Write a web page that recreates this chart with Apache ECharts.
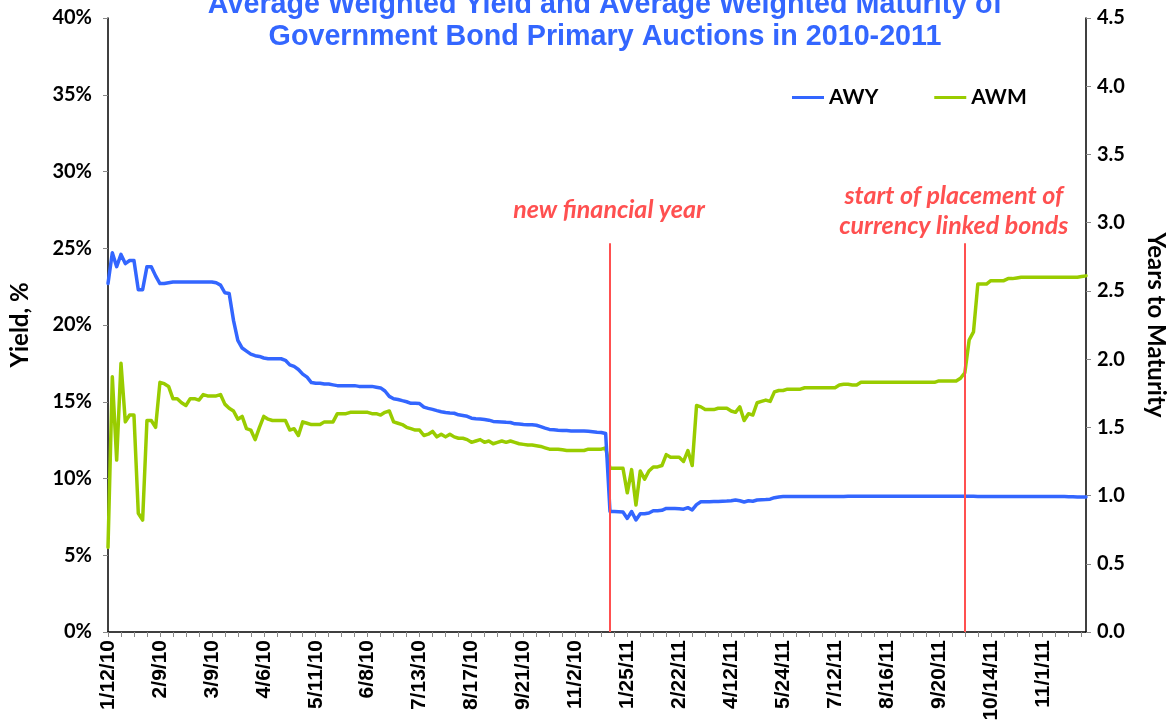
<!DOCTYPE html>
<html>
<head>
<meta charset="utf-8">
<script src="https://cdn.jsdelivr.net/npm/echarts@6/dist/echarts.min.js"></script>
<style>
  html, body { margin: 0; padding: 0; background: #fff; }
  #chart { width: 1168px; height: 722px; }
</style>
</head>
<body>
<div id="chart"></div>
<script>
// Date labels shown on every 12th auction along the horizontal axis
const tickLabels = ['1/12/10', '2/9/10', '3/9/10', '4/6/10', '5/11/10', '6/8/10', '7/13/10',
  '8/17/10', '9/21/10', '11/2/10', '1/25/11', '2/22/11', '4/12/11', '5/24/11', '7/12/11',
  '8/16/11', '9/20/11', '10/14/11', '11/1/11'];
const labelStep = 12;

// Average weighted yield, %
const awy = [
  22.7, 24.7, 23.8, 24.6, 24.0, 24.2, 24.2, 22.3, 22.3, 23.8,
  23.8, 23.2, 22.7, 22.7, 22.75, 22.8, 22.8, 22.8, 22.8, 22.8,
  22.8, 22.8, 22.8, 22.8, 22.8, 22.75, 22.6, 22.1, 22.05, 20.3,
  19.0, 18.5, 18.3, 18.1, 18.0, 17.95, 17.85, 17.8, 17.8, 17.8,
  17.8, 17.7, 17.4, 17.3, 17.1, 16.8, 16.6, 16.25, 16.2, 16.2,
  16.15, 16.15, 16.1, 16.05, 16.05, 16.05, 16.05, 16.05, 16.0, 16.0,
  16.0, 16.0, 15.95, 15.9, 15.7, 15.35, 15.2, 15.15, 15.07, 15.0,
  14.9, 14.9, 14.88, 14.65, 14.57, 14.5, 14.42, 14.35, 14.3, 14.27,
  14.25, 14.15, 14.1, 14.05, 13.93, 13.9, 13.88, 13.85, 13.8, 13.72,
  13.7, 13.68, 13.66, 13.65, 13.56, 13.55, 13.52, 13.5, 13.5, 13.47,
  13.38, 13.28, 13.2, 13.18, 13.15, 13.13, 13.12, 13.1, 13.1, 13.1,
  13.1, 13.08, 13.05, 13.02, 13.0, 12.93, 7.85, 7.85, 7.84, 7.82,
  7.4, 7.85, 7.3, 7.7, 7.7, 7.75, 7.9, 7.9, 7.93, 8.05,
  8.05, 8.04, 8.03, 8.0, 8.1, 7.95, 8.3, 8.49, 8.49, 8.49,
  8.5, 8.5, 8.52, 8.53, 8.55, 8.6, 8.55, 8.47, 8.55, 8.52,
  8.6, 8.62, 8.63, 8.65, 8.75, 8.8, 8.82, 8.82, 8.82, 8.82,
  8.82, 8.82, 8.82, 8.82, 8.82, 8.82, 8.82, 8.82, 8.82, 8.82,
  8.82, 8.84, 8.84, 8.84, 8.84, 8.84, 8.84, 8.84, 8.84, 8.84,
  8.84, 8.84, 8.84, 8.84, 8.84, 8.84, 8.84, 8.84, 8.84, 8.84,
  8.84, 8.84, 8.84, 8.84, 8.84, 8.84, 8.84, 8.84, 8.84, 8.84,
  8.84, 8.83, 8.83, 8.83, 8.83, 8.83, 8.83, 8.83, 8.83, 8.83,
  8.83, 8.83, 8.83, 8.83, 8.83, 8.82, 8.82, 8.82, 8.82, 8.82,
  8.82, 8.82, 8.81, 8.81, 8.8, 8.8, 8.8
];

// Average weighted maturity, years
const awm = [
  0.62, 1.87, 1.26, 1.97, 1.54, 1.59, 1.59, 0.87, 0.82, 1.55,
  1.55, 1.50, 1.83, 1.82, 1.80, 1.71, 1.71, 1.68, 1.66, 1.71,
  1.71, 1.70, 1.74, 1.73, 1.73, 1.73, 1.74, 1.67, 1.64, 1.62,
  1.56, 1.58, 1.49, 1.48, 1.41, 1.50, 1.58, 1.56, 1.55, 1.55,
  1.55, 1.55, 1.48, 1.49, 1.44, 1.54, 1.53, 1.52, 1.52, 1.52,
  1.54, 1.54, 1.54, 1.60, 1.60, 1.60, 1.61, 1.61, 1.61, 1.61,
  1.61, 1.60, 1.60, 1.59, 1.61, 1.62, 1.54, 1.53, 1.52, 1.50,
  1.49, 1.48, 1.48, 1.44, 1.45, 1.47, 1.43, 1.45, 1.43, 1.45,
  1.43, 1.42, 1.42, 1.41, 1.39, 1.40, 1.41, 1.39, 1.40, 1.38,
  1.39, 1.40, 1.39, 1.40, 1.39, 1.38, 1.375, 1.37, 1.37, 1.365,
  1.36, 1.35, 1.34, 1.34, 1.34, 1.335, 1.33, 1.33, 1.33, 1.33,
  1.33, 1.34, 1.34, 1.34, 1.34, 1.35, 1.20, 1.20, 1.20, 1.20,
  1.02, 1.19, 0.93, 1.18, 1.12, 1.18, 1.21, 1.21, 1.22, 1.30,
  1.28, 1.28, 1.28, 1.25, 1.33, 1.22, 1.66, 1.65, 1.63, 1.63,
  1.63, 1.64, 1.64, 1.64, 1.62, 1.61, 1.65, 1.55, 1.60, 1.59,
  1.68, 1.69, 1.70, 1.69, 1.76, 1.77, 1.77, 1.78, 1.78, 1.78,
  1.78, 1.79, 1.79, 1.79, 1.79, 1.79, 1.79, 1.79, 1.79, 1.81,
  1.815, 1.815, 1.81, 1.81, 1.83, 1.83, 1.83, 1.83, 1.83, 1.83,
  1.83, 1.83, 1.83, 1.83, 1.83, 1.83, 1.83, 1.83, 1.83, 1.83,
  1.83, 1.83, 1.84, 1.84, 1.84, 1.84, 1.84, 1.86, 1.90, 2.14,
  2.20, 2.55, 2.55, 2.55, 2.575, 2.575, 2.575, 2.575, 2.59, 2.59,
  2.595, 2.60, 2.60, 2.60, 2.60, 2.60, 2.60, 2.60, 2.60, 2.60,
  2.60, 2.60, 2.60, 2.60, 2.60, 2.605, 2.61
];

// Event markers: auction index and the maturity level where the marker line stops
const eventAt = [116, 198];
const eventTop = [2.85, 2.85];
const eventText = ['new financial year', 'start of placement of\ncurrency linked bonds'];

const categories = awy.map((_, i) => String(i));

const BLUE = '#3366FF';
const GREEN = '#99CC00';
const RED = '#FF5050';
const labelFont = 'Lato, "Liberation Sans", sans-serif';
const dateFont = '"Liberation Sans", Arial, sans-serif';
const nameStyle = { fontFamily: labelFont, fontWeight: 'bold', fontSize: 24, color: '#000' };

const chart = echarts.init(document.getElementById('chart'));

chart.setOption({
  animation: false,
  backgroundColor: '#fff',
  title: {
    text: 'Average Weighted Yield and Average Weighted Maturity of\nGovernment Bond Primary Auctions in 2010-2011',
    left: 600,
    top: -16,
    textAlign: 'center',
    textStyle: {
      fontFamily: dateFont, fontWeight: 'bold', fontSize: 28.7, lineHeight: 32, color: BLUE
    }
  },
  legend: {
    data: ['AWY', 'AWM'],
    left: 787,
    top: 82,
    icon: 'rect',
    itemWidth: 32,
    itemHeight: 3,
    itemGap: 56,
    textStyle: { fontFamily: labelFont, fontWeight: 'bold', fontSize: 21, color: '#000' }
  },
  grid: { left: 108, right: 82, top: 18, bottom: 90, outerBoundsMode: 'none', containLabel: false },
  xAxis: {
    type: 'category',
    data: categories,
    boundaryGap: false,
    axisLine: { lineStyle: { color: '#000', width: 1.5 } },
    axisTick: { interval: 2, length: 5, lineStyle: { color: '#888' } },
    axisLabel: {
      interval: labelStep - 1,
      rotate: 90,
      margin: 8,
      fontFamily: dateFont,
      fontWeight: 'bold',
      fontSize: 21,
      color: '#000',
      formatter: (v, i) => tickLabels[i / labelStep] || ''
    },
    splitLine: { show: false }
  },
  yAxis: [
    {
      type: 'value',
      min: 0, max: 40, interval: 5,
      name: 'Yield, %',
      nameLocation: 'middle',
      nameRotate: 90,
      nameGap: 76,
      nameTextStyle: nameStyle,
      axisLine: { show: true, lineStyle: { color: '#000', width: 1.5 } },
      axisTick: { show: true, length: 5, lineStyle: { color: '#888' } },
      axisLabel: {
        margin: 16, fontFamily: labelFont, fontWeight: 'bold', fontSize: 20, color: '#000',
        formatter: '{value}%'
      },
      splitLine: { show: false }
    },
    {
      type: 'value',
      position: 'right',
      min: 0, max: 4.5, interval: 0.5,
      name: 'Years to Maturity',
      nameLocation: 'middle',
      nameRotate: -90,
      nameGap: 58,
      nameTextStyle: nameStyle,
      axisLine: { show: true, lineStyle: { color: '#000', width: 1.5 } },
      axisTick: { show: true, length: 5, lineStyle: { color: '#888' } },
      axisLabel: {
        margin: 11, fontFamily: labelFont, fontWeight: 'bold', fontSize: 20, color: '#000',
        formatter: v => v.toFixed(1)
      },
      splitLine: { show: false }
    }
  ],
  series: [
    {
      name: 'AWY',
      type: 'line',
      yAxisIndex: 0,
      data: awy,
      symbol: 'none',
      itemStyle: { color: BLUE },
      lineStyle: { color: BLUE, width: 3.5, join: 'round', cap: 'round' },
      z: 3
    },
    {
      name: 'AWM',
      type: 'line',
      yAxisIndex: 1,
      data: awm,
      symbol: 'none',
      itemStyle: { color: GREEN },
      lineStyle: { color: GREEN, width: 3.5, join: 'round', cap: 'round' },
      z: 2,
      markLine: {
        silent: true,
        symbol: 'none',
        label: { show: false },
        lineStyle: { color: RED, width: 2, type: 'solid' },
        data: eventAt.map((at, k) => [
          { coord: [categories[at], 0] },
          { coord: [categories[at], eventTop[k]] }
        ])
      }
    }
  ]
});

// Event captions centred a fixed distance above the top of each marker line
const captionShift = [-1, -11];
const captionGap = [33, 32];
chart.setOption({
  graphic: eventAt.map((at, k) => {
    const p = chart.convertToPixel({ xAxisIndex: 0, yAxisIndex: 1 }, [categories[at], eventTop[k]]);
    return {
      type: 'text',
      x: p[0] + captionShift[k],
      y: p[1] - captionGap[k],
      style: {
        text: eventText[k],
        align: 'center',
        verticalAlign: 'middle',
        fontFamily: labelFont,
        fontStyle: 'italic',
        fontWeight: 'bold',
        fontSize: 25,
        lineHeight: 30,
        fill: RED
      }
    };
  })
});
</script>
</body>
</html>
